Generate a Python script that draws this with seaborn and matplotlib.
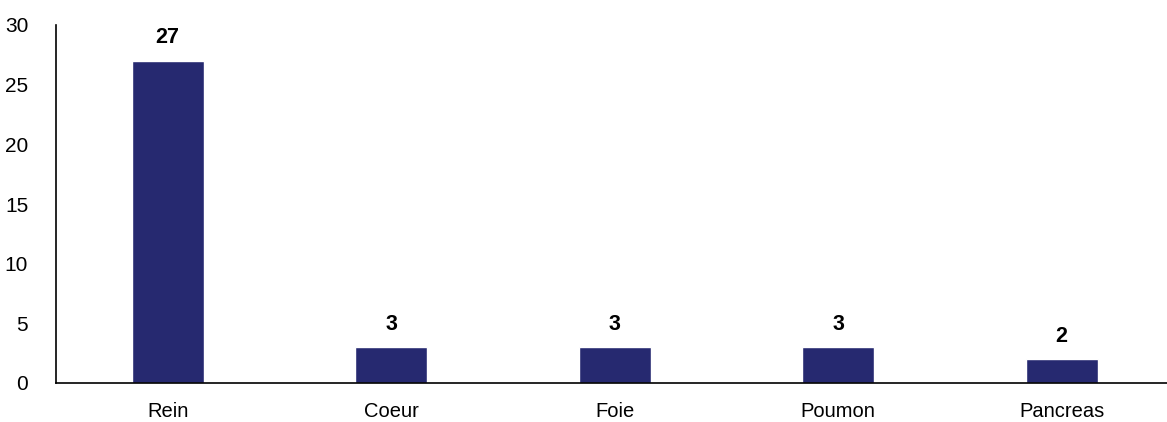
import matplotlib
matplotlib.use('Agg')
import matplotlib.pyplot as plt
import seaborn as sns
import pandas as pd

# Data
organes = ['Rein', 'Coeur', 'Foie', 'Poumon', 'Pancreas']
effectifs = [27, 3, 3, 3, 2]

df = pd.DataFrame({'Organe': organes, 'Effectif': effectifs})

sns.set_style('white')
plt.rcParams['font.family'] = ['Liberation Sans', 'DejaVu Sans']

fig = plt.figure(figsize=(11.67, 4.22), dpi=100)
ax = fig.add_axes([56 / 1167, 1 - 383 / 422, 1117.5 / 1167, (383 - 25) / 422])

sns.barplot(data=df, x='Organe', y='Effectif', color='#262970', width=0.32,
            saturation=1, ax=ax)

ax.bar_label(ax.containers[0], fmt='%d', padding=9, fontsize=15.5,
             fontweight='bold', color='black')

ax.set_ylim(0, 30)
ax.set_xlim(-0.5, 4.5)
ax.set_yticks([0, 5, 10, 15, 20, 25, 30])
ax.tick_params(axis='x', length=0, labelsize=14.5, colors='black', pad=14)
ax.tick_params(axis='y', length=0, labelsize=15, colors='black', pad=20)
ax.set_xlabel('')
ax.set_ylabel('')

for side in ['top', 'right']:
    ax.spines[side].set_visible(False)
for side in ['left', 'bottom']:
    ax.spines[side].set_color('black')
    ax.spines[side].set_linewidth(1.2)

fig.savefig('out.png', dpi=100)
